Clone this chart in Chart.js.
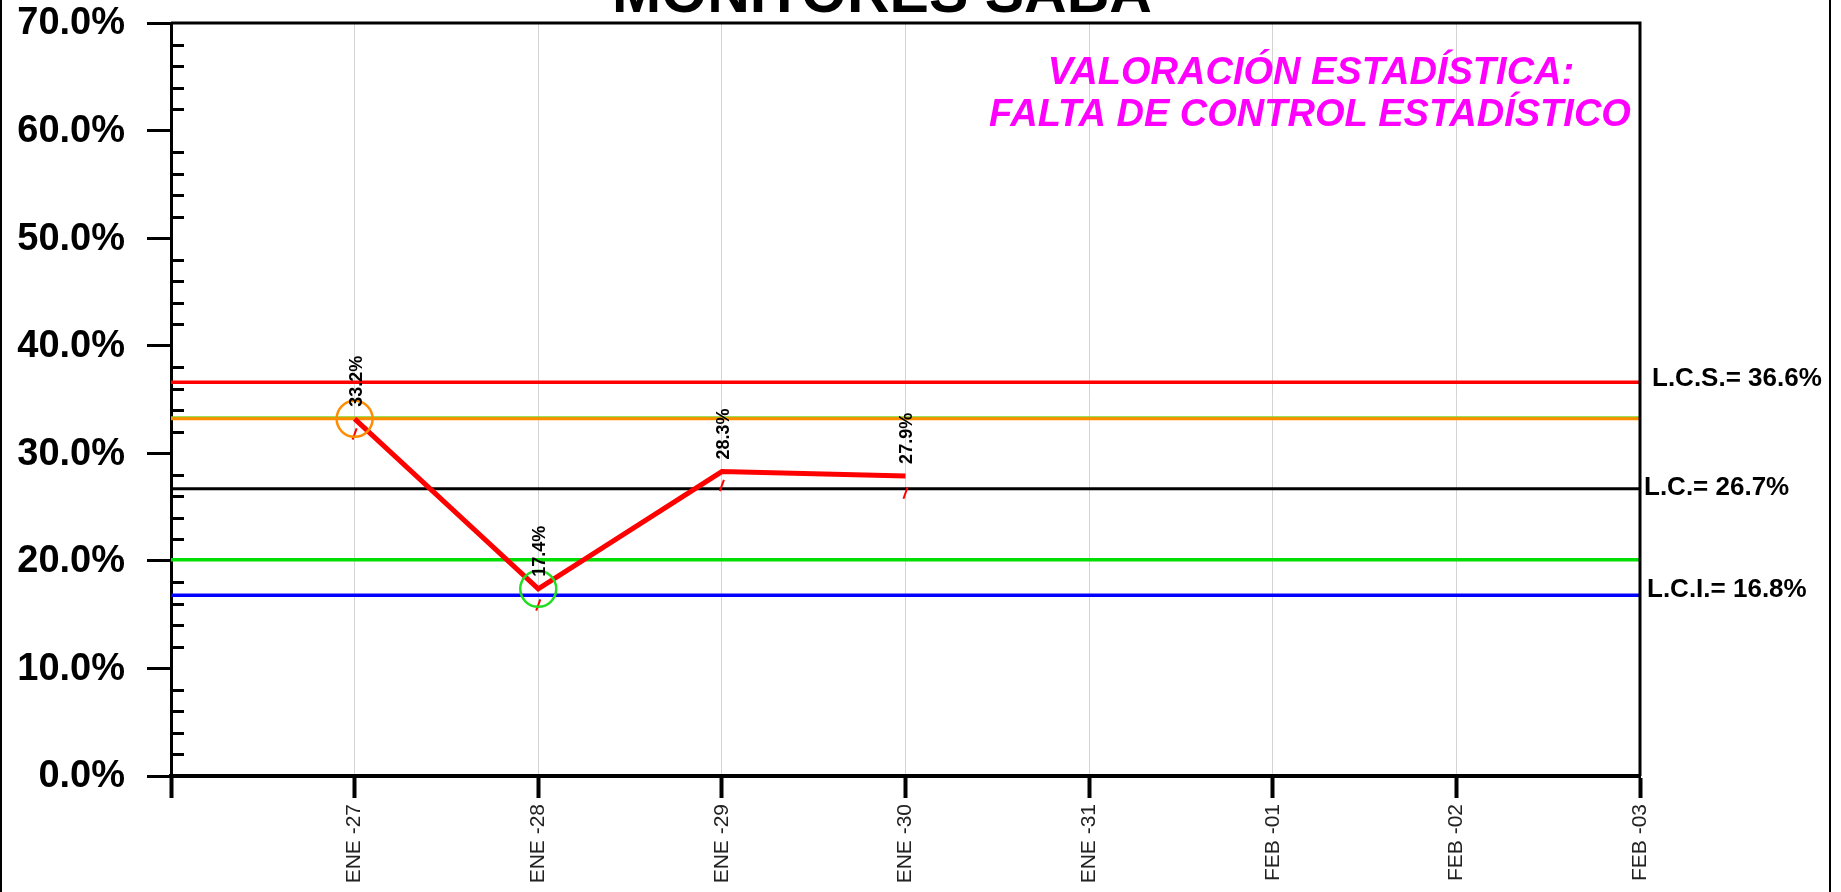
<!DOCTYPE html>
<html>
<head>
<meta charset="utf-8">
<script src="https://cdn.jsdelivr.net/npm/chart.js@4"></script>
<style>
    html, body { margin: 0; padding: 0; background: #fff; }
    #wrap { width: 1841px; height: 892px; position: relative; }
</style>
</head>
<body>
<div id="wrap"><canvas id="spcChart"></canvas></div>
<script>
// categories (first slot is the unlabeled start of the axis)
const labels = ['', 'ENE -27', 'ENE -28', 'ENE -29', 'ENE -30', 'ENE -31', 'FEB -01', 'FEB -02', 'FEB -03'];
// measured percentages
const percentValues = [null, 33.2, 17.4, 28.3, 27.9];
// small red marks below each point
const markValues = [null, 31.8, 15.9, 27.0, 26.3];
// control limits
const limitLCS = 36.6;
const limitLC = 26.7;
const limitLCI = 16.8;
const warnUpper = 33.3;
const warnOrange = 33.2;
const warnLower = 20.1;
const yTickValues = [0, 10, 20, 30, 40, 50, 60, 70];

const FONT = "'Liberation Sans', Arial, sans-serif";
const first = labels[0];
const last = labels[labels.length - 1];

function flatLine(value, color, width) {
    return {
        data: [{ x: first, y: value }, { x: last, y: value }],
        borderColor: color,
        borderWidth: width,
        pointRadius: 0,
        fill: false
    };
}

const framePlugin = {
    id: 'frame',
    afterDraw(chart) {
        const { ctx, chartArea } = chart;
        const y = chart.scales.y;
        ctx.save();
        ctx.strokeStyle = '#000';
        // plot box top and right
        ctx.lineWidth = 3;
        ctx.beginPath();
        ctx.moveTo(chartArea.left, chartArea.top);
        ctx.lineTo(chartArea.right, chartArea.top);
        ctx.lineTo(chartArea.right, chartArea.bottom);
        ctx.stroke();
        // minor ticks inside the y axis
        y.ticks.forEach(t => {
            if (!yTickValues.includes(Math.round(t.value))) {
                const py = Math.round(y.getPixelForValue(t.value)) + 0.5;
                ctx.beginPath();
                ctx.moveTo(chartArea.left, py);
                ctx.lineTo(chartArea.left + 13, py);
                ctx.stroke();
            }
        });
        // outer borders
        ctx.lineWidth = 2;
        ctx.beginPath();
        ctx.moveTo(1, 0); ctx.lineTo(1, chart.height);
        ctx.moveTo(1830, 0); ctx.lineTo(1830, chart.height);
        ctx.stroke();

        // y tick labels
        ctx.fillStyle = '#000';
        ctx.font = 'bold 38px ' + FONT;
        ctx.textAlign = 'right';
        ctx.textBaseline = 'middle';
        yTickValues.forEach(v => {
            ctx.fillText(v.toFixed(1) + '%', 125, y.getPixelForValue(v) + 1);
        });
        ctx.restore();
    }
};

const textPlugin = {
    id: 'texts',
    afterDraw(chart) {
        const { ctx, chartArea } = chart;
        const x = chart.scales.x;
        const y = chart.scales.y;
        ctx.save();

        // title (cut off at the top)
        ctx.fillStyle = '#000';
        ctx.font = 'bold 59px ' + FONT;
        ctx.textAlign = 'center';
        ctx.textBaseline = 'alphabetic';
        ctx.fillText('MONITORES SABA', 882, 12);

        // statistical assessment
        ctx.fillStyle = '#FF00FF';
        ctx.font = 'italic bold 38px ' + FONT;
        ctx.fillText('VALORACIÓN ESTADÍSTICA:', 1311, 84);
        ctx.fillText('FALTA DE CONTROL ESTADÍSTICO', 1310, 126);

        // limit labels
        ctx.fillStyle = '#000';
        ctx.font = 'bold 26px ' + FONT;
        ctx.textAlign = 'left';
        ctx.textBaseline = 'middle';
        ctx.fillText('L.C.S.= ' + limitLCS.toFixed(1) + '%', chartArea.right + 12, y.getPixelForValue(limitLCS) - 3);
        ctx.fillText('L.C.= ' + limitLC.toFixed(1) + '%', chartArea.right + 4, y.getPixelForValue(limitLC) - 1);
        ctx.fillText('L.C.I.= ' + limitLCI.toFixed(1) + '%', chartArea.right + 7, y.getPixelForValue(limitLCI) - 5);

        // point value labels, rotated
        ctx.font = 'bold 18px ' + FONT;
        percentValues.forEach((v, i) => {
            if (v === null) return;
            const px = x.getPixelForValue(i);
            const py = y.getPixelForValue(v);
            ctx.save();
            ctx.translate(px + 2, py - 12);
            ctx.rotate(-Math.PI / 2);
            ctx.textAlign = 'left';
            ctx.textBaseline = 'middle';
            ctx.fillText(v.toFixed(1) + '%', 0, 0);
            ctx.restore();
        });
        ctx.restore();
    }
};

new Chart(document.getElementById('spcChart').getContext('2d'), {
    type: 'line',
    data: {
        labels: labels,
        datasets: [
            {
                data: percentValues,
                borderColor: '#FF0000',
                borderWidth: 5,
                pointRadius: [0, 18, 18, 0, 0],
                pointBorderWidth: 2.5,
                pointBorderColor: ['#000', '#FF8C00', '#22DD22', '#000', '#000'],
                pointBackgroundColor: 'rgba(0,0,0,0)',
                fill: false,
                tension: 0
            },
            {
                data: markValues,
                showLine: false,
                pointStyle: 'line',
                rotation: -70,
                pointRadius: 6,
                pointBorderWidth: 2,
                pointBorderColor: '#FF0000'
            },
            flatLine(limitLCS, '#FF0000', 3.5),
            flatLine(warnOrange, '#FF8C00', 3),
            flatLine(warnUpper, '#7ED321', 3),
            flatLine(limitLC, '#000000', 3),
            flatLine(warnLower, '#00DD00', 3.5),
            flatLine(limitLCI, '#0000FF', 3.5)
        ]
    },
    options: {
        responsive: true,
        maintainAspectRatio: false,
        animation: false,
        events: [],
        layout: { padding: { top: 23, right: 201, left: 0, bottom: 0 } },
        plugins: {
            legend: { display: false },
            tooltip: { enabled: false },
            title: { display: false }
        },
        scales: {
            x: {
                type: 'category',
                offset: false,
                grid: {
                    color: '#d4d4d4',
                    lineWidth: 1,
                    drawOnChartArea: true,
                    tickColor: '#000',
                    tickWidth: 4,
                    tickLength: 22
                },
                border: { color: '#000', width: 4 },
                ticks: {
                    autoSkip: false,
                    maxRotation: 90,
                    minRotation: 90,
                    padding: 6,
                    color: '#222',
                    font: { family: FONT, size: 21 }
                },
                afterFit: s => { s.height = 116; }
            },
            y: {
                min: 0,
                max: 70,
                ticks: {
                    stepSize: 2,
                    display: false
                },
                grid: {
                    drawOnChartArea: false,
                    tickLength: 24,
                    tickWidth: 3,
                    tickColor: ctx => yTickValues.includes(Math.round(ctx.tick.value)) ? '#000' : 'rgba(0,0,0,0)'
                },
                border: { color: '#000', width: 3 },
                afterFit: s => { s.width = 171; }
            }
        }
    },
    plugins: [framePlugin, textPlugin]
});
</script>
</body>
</html>
